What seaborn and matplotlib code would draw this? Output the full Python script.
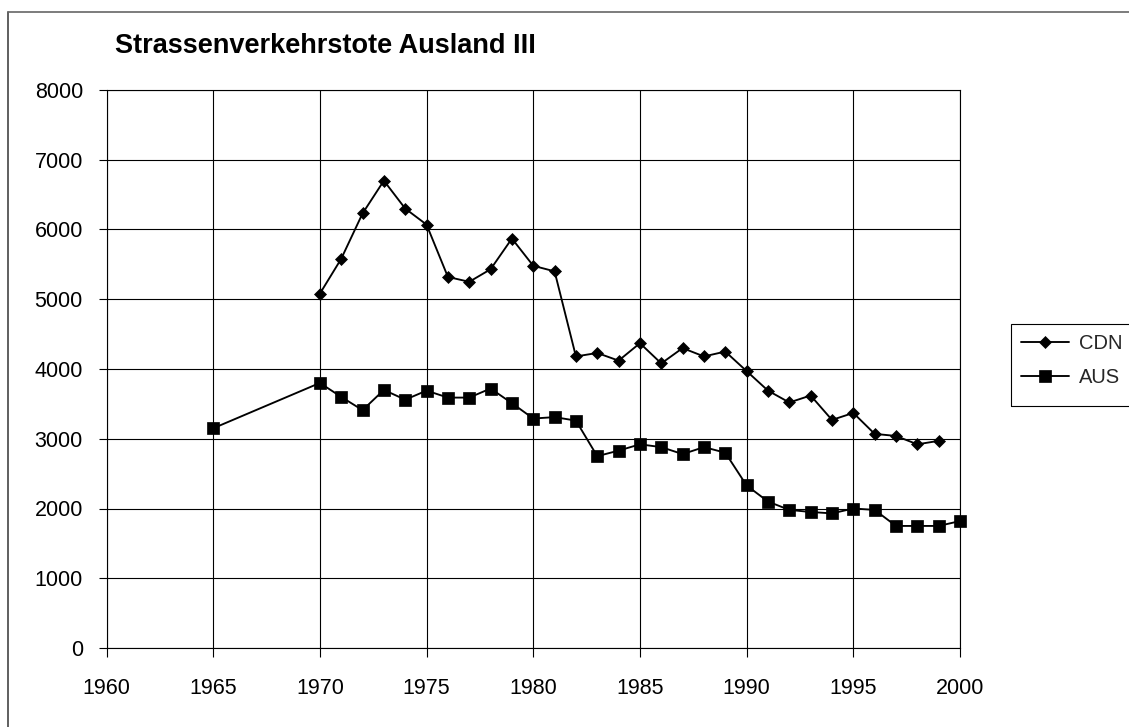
import matplotlib
matplotlib.use("Agg")
import matplotlib.pyplot as plt
from matplotlib.patches import Rectangle
from matplotlib.lines import Line2D
import seaborn as sns
import pandas as pd

# ---- data ----
title = "Strassenverkehrstote Ausland III"
cdn_years = list(range(1970, 2000))
cdn_values = [5080, 5580, 6230, 6700, 6300, 6070, 5320, 5250, 5430, 5870,
              5480, 5400, 4180, 4230, 4120, 4370, 4080, 4300, 4180, 4250,
              3970, 3690, 3520, 3620, 3270, 3370, 3070, 3040, 2920, 2970]
aus_years = [1965] + list(range(1970, 2001))
aus_values = [3150, 3800, 3600, 3410, 3700, 3560, 3690, 3590, 3590, 3720,
              3510, 3290, 3310, 3260, 2750, 2830, 2920, 2880, 2780, 2880,
              2800, 2330, 2100, 1980, 1950, 1930, 2000, 1980, 1750, 1750,
              1750, 1820]
x_ticks = list(range(1960, 2001, 5))
y_ticks = list(range(0, 8001, 1000))

sns.set_style("white")
plt.rcParams['font.family'] = ['Liberation Sans', 'DejaVu Sans']

W, H = 1129, 727
fig = plt.figure(figsize=(W / 100, H / 100), dpi=100)
fig.patch.set_facecolor("white")

left, right, top, bottom = 106.5, 960, 90, 648
ax = fig.add_axes([left / W, 1 - bottom / H, (right - left) / W, (bottom - top) / H])

df_cdn = pd.DataFrame({"Jahr": cdn_years, "Tote": cdn_values})
df_aus = pd.DataFrame({"Jahr": aus_years, "Tote": aus_values})

sns.lineplot(data=df_cdn, x="Jahr", y="Tote", ax=ax, color="black", marker="D",
             markersize=6.2, markeredgecolor="black", markerfacecolor="black",
             markeredgewidth=0.5, linewidth=1.35, label="CDN", clip_on=False, zorder=5)
sns.lineplot(data=df_aus, x="Jahr", y="Tote", ax=ax, color="black", marker="s",
             markersize=8.2, markeredgecolor="black", markerfacecolor="black",
             markeredgewidth=0.5, linewidth=1.35, label="AUS", clip_on=False, zorder=5)

ax.set_xlim(1960, 2000)
ax.set_ylim(0, 8000)
ax.set_xticks(x_ticks)
ax.set_yticks(y_ticks)
ax.set_xlabel("")
ax.set_ylabel("")
ax.grid(True, color="black", linewidth=0.8)
ax.set_axisbelow(True)
for s in ax.spines.values():
    s.set_color("black")
    s.set_linewidth(0.8)
ax.tick_params(axis="y", direction="out", length=6, width=0.8, pad=11,
               labelsize=15.5, colors="black", left=True)
ax.tick_params(axis="x", direction="out", length=6.5, width=0.8, pad=15,
               labelsize=15.5, colors="black", bottom=True)

# legend: content without frame, frame drawn manually (cut at right edge)
leg = ax.legend(loc="upper left", bbox_to_anchor=(1010.7 / W, 1 - 324 / H),
                bbox_transform=fig.transFigure, frameon=False, fontsize=14.5,
                borderaxespad=0, borderpad=0.5, handlelength=2.4,
                handletextpad=0.5, labelspacing=0.72)
fig.patches.append(Rectangle((1010.7 / W, 1 - 406 / H), 0.2, 82 / H,
                             transform=fig.transFigure, fill=False,
                             edgecolor="black", linewidth=0.8))

# chart-area border (left and top visible)
fig.lines.append(Line2D([8 / W, 8 / W], [0, 1 - 11.5 / H], transform=fig.transFigure,
                        color="#444444", linewidth=1.2))
fig.lines.append(Line2D([8 / W, 1], [1 - 11.5 / H, 1 - 11.5 / H], transform=fig.transFigure,
                        color="#666666", linewidth=1.2))

fig.text(115 / W, 1 - 53.3 / H, title, fontsize=19.5, fontweight="bold",
         ha="left", va="baseline", color="black")

fig.savefig("out.png", dpi=100)
